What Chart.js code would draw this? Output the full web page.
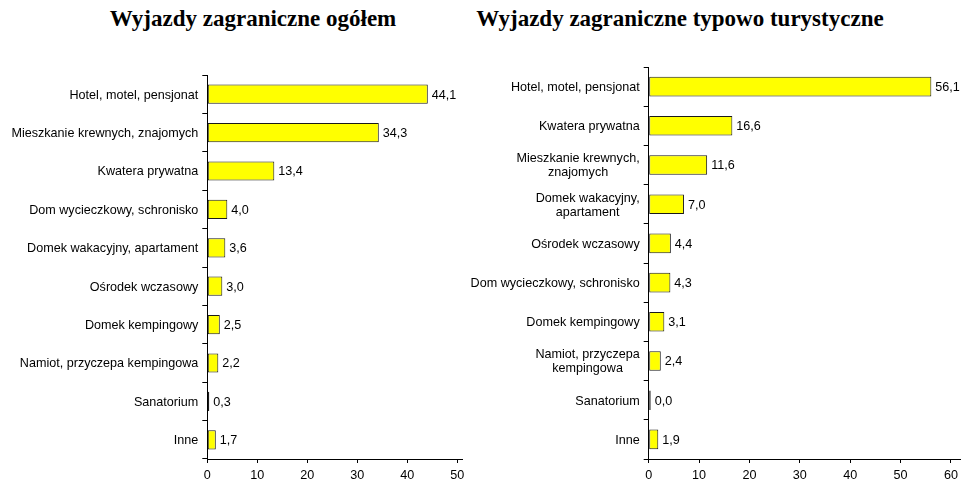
<!DOCTYPE html>
<html>
<head>
<meta charset="utf-8">
<script src="https://cdn.jsdelivr.net/npm/chart.js@4.4.1/dist/chart.umd.min.js"></script>
<style>
    body { margin: 0; background: #fff; }
    #wrap { position: relative; width: 963px; height: 484px; overflow: hidden; }
    .title {
        position: absolute; top: 5px; width: 500px; text-align: center;
        font-family: 'Liberation Serif', 'Times New Roman', serif;
        font-weight: bold; font-size: 23px; line-height: 28px; color: #000;
    }
    canvas { position: absolute; top: 0; }
</style>
</head>
<body>
<div id="wrap">
    <div class="title" style="left:3px">Wyjazdy zagraniczne ogółem</div>
    <div class="title" style="left:430px">Wyjazdy zagraniczne typowo turystyczne</div>
    <canvas id="chartA" width="480" height="484" style="left:0;width:480px;height:484px"></canvas>
    <canvas id="chartB" width="523" height="484" style="left:440px;width:523px;height:484px"></canvas>
</div>
<script>
// dane - wyjazdy ogółem
const labelsA = [
    'Hotel, motel, pensjonat',
    'Mieszkanie krewnych, znajomych',
    'Kwatera prywatna',
    'Dom wycieczkowy, schronisko',
    'Domek wakacyjny, apartament',
    'Ośrodek wczasowy',
    'Domek kempingowy',
    'Namiot, przyczepa kempingowa',
    'Sanatorium',
    'Inne'
];
const valuesA = [44.1, 34.3, 13.4, 4.0, 3.6, 3.0, 2.5, 2.2, 0.3, 1.7];

// dane - wyjazdy typowo turystyczne
const labelsB = [
    'Hotel, motel, pensjonat',
    'Kwatera prywatna',
    ['Mieszkanie krewnych,', 'znajomych'],
    ['Domek wakacyjny,', 'apartament'],
    'Ośrodek wczasowy',
    'Dom wycieczkowy, schronisko',
    'Domek kempingowy',
    ['Namiot, przyczepa', 'kempingowa'],
    'Sanatorium',
    'Inne'
];
const valuesB = [56.1, 16.6, 11.6, 7.0, 4.4, 4.3, 3.1, 2.4, 0.0, 1.9];

const ticksA = [0, 10, 20, 30, 40, 50];
const ticksB = [0, 10, 20, 30, 40, 50, 60];

const FONT = "'Liberation Sans', Arial, sans-serif";
const FSIZE = 12.6;

// etykiety wartości przy słupkach + etykiety kategorii (wyśrodkowane wiersze)
const labelsPlugin = {
    id: 'labelsPlugin',
    afterDatasetsDraw(chart) {
        const ctx = chart.ctx;
        const meta = chart.getDatasetMeta(0);
        const vals = chart.data.datasets[0].data;
        ctx.save();
        ctx.font = FSIZE + 'px ' + FONT;
        ctx.fillStyle = '#000';
        ctx.textBaseline = 'middle';
        ctx.textAlign = 'left';
        meta.data.forEach((bar, i) => {
            ctx.fillText(vals[i].toFixed(1).replace('.', ','), bar.x + 4, bar.y + 1);
        });

        // kategorie
        const yScale = chart.scales.y;
        const right = chart.chartArea.left - 9;
        const lh = 14;
        chart.data.labels.forEach((lab, i) => {
            const lines = Array.isArray(lab) ? lab : [lab];
            const w = Math.max(...lines.map(l => ctx.measureText(l).width));
            const cx = right - w / 2;
            const y0 = yScale.getPixelForTick(i) - (lines.length - 1) * lh / 2 + 1;
            ctx.textAlign = 'center';
            lines.forEach((l, k) => ctx.fillText(l, cx, y0 + k * lh));
        });
        ctx.restore();
    }
};

function makeChart(id, labels, values, tickVals, xMax, yWidth, padTop, padRight) {
    return new Chart(document.getElementById(id), {
        type: 'bar',
        data: {
            labels: labels,
            datasets: [{
                data: values,
                backgroundColor: '#ffff00',
                borderColor: '#1a1a1a',
                borderWidth: 1,
                borderSkipped: false,
                minBarLength: 2,
                categoryPercentage: 1,
                barPercentage: 0.5
            }]
        },
        options: {
            indexAxis: 'y',
            responsive: false,
            animation: false,
            layout: { padding: { top: padTop, right: padRight, bottom: 0, left: 0 } },
            plugins: {
                legend: { display: false },
                tooltip: { enabled: false }
            },
            scales: {
                x: {
                    min: 0,
                    max: xMax,
                    afterBuildTicks: (axis) => {
                        axis.ticks = tickVals.map(v => ({ value: v }));
                    },
                    afterFit: (scale) => { scale.height = 25; },
                    border: { color: '#000', width: 1 },
                    grid: { drawOnChartArea: false, drawTicks: true, tickLength: 4, color: '#000' },
                    ticks: { color: '#000', font: { family: FONT, size: FSIZE }, padding: 5, maxRotation: 0 }
                },
                y: {
                    afterFit: (scale) => { scale.width = yWidth; },
                    border: { color: '#000', width: 1 },
                    grid: { drawOnChartArea: false, drawTicks: true, tickLength: 5, color: '#000', offset: true },
                    ticks: { display: false }
                }
            }
        },
        plugins: [labelsPlugin]
    });
}

makeChart('chartA', labelsA, valuesA, ticksA, 51, 207.3, 75, 17.7);
makeChart('chartB', labelsB, valuesB, ticksB, 61.8, 208.7, 67, 0.6);
</script>
</body>
</html>
